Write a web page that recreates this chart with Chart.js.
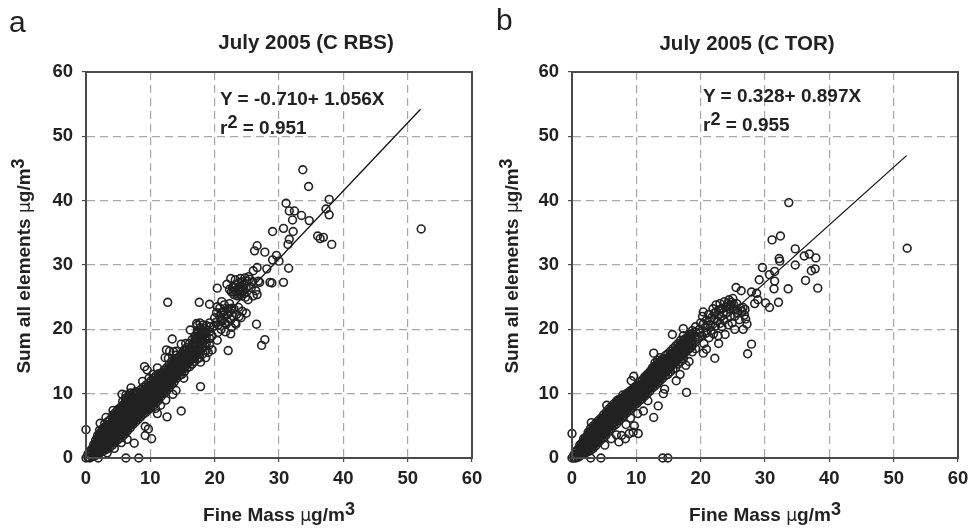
<!DOCTYPE html>
<html>
<head>
<meta charset="utf-8">
<title>July 2005 fine mass vs sum of elements</title>
<script src="https://cdn.jsdelivr.net/npm/chart.js@4"></script>
<style>
    html, body { margin: 0; padding: 0; background: #fff; }
    body { width: 971px; height: 528px; position: relative; overflow: hidden; font-family: "Liberation Sans", Arial, sans-serif; color: #222; }
    canvas { position: absolute; top: 0; }
    .txt { position: absolute; white-space: nowrap; font-weight: bold; font-size: 19px; line-height: 20px; }
    .panel { font-weight: normal; font-size: 30px; line-height: 30px; }
    .title { font-size: 20.5px; transform: translateX(-50%); }
    .ytitle { transform: translate(-50%, -50%) rotate(-90deg); }
    .xtitle { transform: translateX(-50%); }
    sup { font-size: 0.95em; line-height: 0; vertical-align: 0.34em; }
    .mu { font-weight: normal; font-family: "DejaVu Sans", sans-serif; font-size: 0.9em; }
</style>
</head>
<body>
<canvas id="chartA" width="492" height="528" style="left:0"></canvas>
<canvas id="chartB" width="492" height="528" style="left:486px"></canvas>

<div class="txt panel" style="left:9px;top:7px">a</div>
<div class="txt panel" style="left:496px;top:5px">b</div>
<div class="txt title" style="left:306px;top:32px">July 2005 (C RBS)</div>
<div class="txt title" style="left:747px;top:33px">July 2005 (C TOR)</div>
<div class="txt" style="left:220px;top:89px">Y = -0.710+ 1.056X</div>
<div class="txt" style="left:220px;top:118px">r<sup>2</sup> = 0.951</div>
<div class="txt" style="left:703px;top:86px">Y = 0.328+ 0.897X</div>
<div class="txt" style="left:703px;top:115px">r<sup>2</sup> = 0.955</div>
<div class="txt ytitle" style="left:24px;top:266px">Sum all elements <span class="mu">µ</span>g/m<sup>3</sup></div>
<div class="txt ytitle" style="left:512px;top:266px">Sum all elements <span class="mu">µ</span>g/m<sup>3</sup></div>
<div class="txt xtitle" style="left:279px;top:505px">Fine Mass <span class="mu">µ</span>g/m<sup>3</sup></div>
<div class="txt xtitle" style="left:765px;top:505px">Fine Mass <span class="mu">µ</span>g/m<sup>3</sup></div>

<script>
const TICKS = [0, 10, 20, 30, 40, 50, 60];

// regression lines, from the printed equations
const fitXA = [0.7, 52];
const fitYA = [0, 54.2];
const fitXB = [0, 52];
const fitYB = [0.33, 47];

// points that can be read one by one: [fine mass, sum of elements]
const outliersA = [
    [33.7,44.8],[34.6,42.2],[37.8,40.2],[37.3,38.7],[37.8,37.8],[31.1,39.6],[31.6,38.4],[32.4,38.4],[33.5,37.7],[34.7,36.9],
    [32.1,37],[30.7,35.7],[32.2,35.2],[29,35.2],[31.6,34],[31.4,33.2],[36,34.5],[36.4,34.1],[36.9,34.3],[38.2,33.2],
    [52.1,35.6],[26.6,33],[26.2,32.2],[27.8,32],[29.6,31.5],[29,30.8],[30,30.6],[31.5,29.5],[26.6,29.6],[28.1,29.4],
    [26,29.1],[30.7,27.3],[28.6,27.3],[28.9,27.2],[22.5,27.9],[20.4,26.4],[21.9,27],[12.7,24.2],[17.6,24.2],[19.2,23.9],
    [21.1,24.3],[24.9,22.5],[23.3,20.8],[26.5,20.8],[22.5,19.3],[27.8,18.4],[27.3,17.5],[22.1,16.7],[20.4,18.3],[13.4,18.5],
    [19,16.4],[17.8,11.1],[14.8,7.3],[12.6,6.4],[13.5,9.9],[11.1,6.9],[0,4.4],[6.2,0],[8.2,0],[0,0],
    [1.9,0],[10.2,3],[9.2,3.5],[9.7,4.5],[9.2,4.9],[7.5,2.3],[9.1,14.2],[9.5,13.7],[11.1,14],[8.8,11.9],
    [7,10.9],[5.6,9.9],[2.2,5.4],[3.1,6.3],[12.5,16.8],[12.3,15.6],[16.2,19.9],[17.2,20.9],[10.8,7.7],[11.6,8.2],
    [12.4,9],[14,10.5],[15.2,12.4],[17.8,14.9],[4.4,1.5],[3.3,0.8],[6.4,2.9],[5.5,2.4],[13,16.6],[13.6,16.5],
    [14,16.6],[14.8,17.7],[15.5,17.8],[12.8,15.5],[9.8,12.4],[10.4,13],[6.2,9.8],[4.2,7.4],[19.6,16.8],[18.6,15.6]
];
const outliersB = [
    [33.7,39.7],[32.4,34.5],[31.1,33.9],[34.7,32.5],[36.9,31.7],[36.1,31.4],[37.9,31.1],[32.2,31],[52.1,32.6],[34.7,30],
    [29.6,29.6],[31.5,29],[37.2,29.1],[37.8,29.4],[32.3,30.6],[30.7,28.5],[36.3,27.6],[38.2,26.4],[29.1,27.7],[31.5,27.5],
    [31.4,26.3],[33.6,26.3],[32.1,24.2],[30.7,23.4],[30.1,24.1],[28.9,24.6],[28.4,24],[27.9,25.8],[28.7,25.6],[25.5,26.5],
    [26.3,26],[20.4,22.7],[15.6,19.2],[17.3,20.1],[27.9,17.7],[27.3,16.2],[22.2,15.5],[26.6,20],[25.3,20],[27.2,20.8],
    [22.8,17.8],[20.9,16.9],[20.4,16.3],[17.8,10.2],[16.2,12],[16.8,13],[14.2,10],[14.4,10.7],[13.4,8.1],[12.7,6.3],
    [11.1,7.3],[12.7,16.3],[9.6,12.7],[9.2,12],[0,3.8],[0,0],[2.9,0],[4.5,0],[14.1,0],[14.9,0],
    [10.3,3.8],[9.5,4],[8.9,3.8],[9.7,5],[8.3,3],[7.3,2.5],[7.7,3.5],[5.1,2],[5.4,8.2],[3,5.5],
    [7.9,9.8],[7.1,9],[6.1,3],[6.9,3.6],[8.4,5.2],[9.1,6.2],[10.2,6.9],[11.8,8.9]
];

// scattered part of the cloud above 20 ug/m3
const upperA = [
    [19.6,19],[19.9,20.5],[20,21.8],[20.3,22.6],[20.5,19.5],[20.8,22],[20.8,23.3],[21,20],[21.2,21.3],[21.3,22.7],
    [21.5,23.8],[21.7,19.6],[21.8,20.8],[22,22.3],[22.1,23.2],[22.3,24],[22.5,21.5],[22.6,20.3],[22.9,22],[23,23.2],
    [23.2,21],[23.4,22.3],[23.7,23.4],[23.8,22],[24.1,21.8],[24.3,22.8],[22.3,26.2],[22.6,25.8],[22.8,26.6],[23,25.4],
    [23.2,26],[23.3,26.9],[23.5,25.2],[23.6,26.3],[23.7,27.2],[23.9,25.8],[24,26.6],[24.2,25.2],[24.2,27.4],[24.4,26],
    [24.5,27],[24.7,28],[24.8,25],[24.9,26.4],[25,27.5],[25.2,24.6],[25.4,27.8],[25.7,26.5],[25.9,27.4],[26,25.2],
    [26.4,26],[26.6,25.4],[26.8,27.5],[27,27.3],[23.2,27.7],[24,27.9],[25.3,28.2],[21,22.6],[21.4,22.2],[21.6,21],
    [22,21.2],[22.3,22.8],[22.7,23.3],[20.2,21.1],[20.6,20.7],[20.4,23.5],[23.4,25.8],[23.8,26.2],[24.1,25.8],[24.3,26.5],
    [22.9,25.9],[23.1,26.5],[23.6,25.5],[24.6,25.6],[21.5,22.8],[21,21.4]
];
const upperB = [
    [19.6,18.6],[19.8,20],[20,21],[20.2,19],[20.3,22],[20.5,17.8],[20.7,20.3],[20.9,21.4],[21,19.5],[21.2,22.3],
    [21.3,18.7],[21.5,20.7],[21.7,21.8],[21.9,23.2],[22,19.3],[22.1,22.5],[22.3,20.5],[22.4,23.8],[22.6,21.3],[22.7,19],
    [22.8,23],[23,24],[23.1,22],[23.3,20.4],[23.4,23.3],[23.6,21.4],[23.7,24.3],[23.8,19.2],[24,22.5],[24.1,23.5],
    [24.3,20.7],[24.4,24.6],[24.6,22],[24.7,23.7],[24.9,21],[25,24.8],[25.2,23.2],[25.3,22],[25.6,24],[25.8,22.5],
    [26,21.5],[26.2,23.3],[26.4,22.8],[26.6,23.4],[26.8,22.2],[27,21.6],[26.9,23.1],[19.9,19.4],[20.4,20.8],[20.8,19.4],
    [21.1,20.6],[21.6,19.8],[22.2,21.6],[22.8,22.2],[23.2,23.1],[23.5,22.6],[23.9,23.4],[24.2,24],[24.5,23.2],[24.8,24.2],
    [25.1,23.9],[25.5,23],[21.4,21.3],[22.4,22.7],[23,20.9]
];

// solid part of the cloud, estimated by column: [fine mass, sum values...]
const coreA = [
    [0.3,0.1,0.6],[0.6,0,0.5,1],[0.9,0.2,0.8,1.4],[1.2,0.3,0.9,1.5,2.1],[1.5,0.4,1,1.6,2.2,2.8],
    [1.8,0.6,1.2,1.8,2.4,3,3.5],[2.1,0.8,1.4,2,2.6,3.2,3.8,4.3],[2.5,1,1.5,2.1,2.7,3.3,3.9,4.5],
    [2.9,1.2,1.8,2.4,3,3.6,4.2,4.8,5.3],[3.3,1.4,2,2.6,3.2,3.8,4.4,5,5.6],[3.7,1.7,2.3,2.9,3.5,4.1,4.7,5.3,5.9],
    [4.1,2,2.6,3.2,3.8,4.4,5,5.6,6.2,6.6],[4.5,2.4,3,3.6,4.2,4.8,5.4,6,6.6,7],[4.9,2.8,3.4,4,4.6,5.2,5.8,6.4,7,7.5],
    [5.3,3.1,3.7,4.3,4.9,5.5,6.1,6.7,7.3,7.8],[5.7,3.4,4,4.6,5.2,5.8,6.4,7,7.6,8.2,8.8],
    [6.1,3.8,4.4,5,5.6,6.2,6.8,7.4,8,8.6,9.2],[6.5,4.3,4.9,5.5,6.1,6.7,7.3,7.9,8.5,9.1,9.6],
    [6.9,4.7,5.3,5.9,6.5,7.1,7.7,8.3,8.9,9.5,10.1],[7.3,5.2,5.8,6.4,7,7.6,8.2,8.8,9.4,10],
    [7.7,5.6,6.2,6.8,7.4,8,8.6,9.2,9.8,10.3],[8.1,6,6.6,7.2,7.8,8.4,9,9.6,10.2],[8.5,6.4,7,7.6,8.2,8.8,9.4,10,10.6],
    [8.9,6.8,7.4,8,8.6,9.2,9.8,10.4,11],[9.3,7.1,7.7,8.3,8.9,9.5,10.1,10.7,11.3],[9.7,7.5,8.1,8.7,9.3,9.9,10.5,11.1,11.6],
    [10.1,7.8,8.4,9,9.6,10.2,10.8,11.4,12],[10.5,8.2,8.8,9.4,10,10.6,11.2,11.8,12.4],[10.9,8.6,9.2,9.8,10.4,11,11.6,12.2,12.8],
    [11.3,9,9.6,10.2,10.8,11.4,12,12.6,13.1],[11.7,9.6,10.2,10.8,11.4,12,12.6,13.2],[12.1,10,10.6,11.2,11.8,12.4,13,13.6],
    [12.5,10.4,11,11.6,12.2,12.8,13.4,14],[12.9,10.9,11.5,12.1,12.7,13.3,13.9,14.5],[13.3,11.4,12,12.6,13.2,13.8,14.4,15],
    [13.7,11.8,12.4,13,13.6,14.2,14.8,15.4],[14.1,12.4,13,13.6,14.2,14.8,15.4,16],[14.5,12.8,13.4,14,14.6,15.2,15.8],
    [14.9,13,13.8,14.4,15,15.6,16.2],[15.3,13.4,14.2,14.8,15.4,16,16.8],[15.7,14,14.6,15.2,15.8,16.4,17.2],
    [16.1,14.2,15,15.6,16.2,17,17.8],[16.5,14.6,15.4,16,16.8,17.6,18.4],[16.9,15,15.8,16.6,17.4,18,18.9],
    [17.3,15.4,16.4,17,17.8,18.6,19.6,20.6],[17.7,15.6,16.8,17.6,18.4,19.2,20.2,21],[18.2,16.2,17.2,18,19,19.8,20.7],
    [18.7,16.8,17.8,18.8,19.6,20.6],[19.2,17.6,18.6,19.6,20.4,21]
];
const coreB = [
    [0.3,0,0.5],[0.6,0,0.5,1],[0.9,0.1,0.7,1.3],[1.2,0.3,0.9,1.5,2],[1.5,0.5,1.1,1.7,2.3],[1.8,0.6,1.2,1.8,2.4,3],
    [2.1,0.8,1.4,2,2.6,3.2],[2.5,1,1.6,2.2,2.8,3.4,4],[2.9,1.2,1.8,2.4,3,3.6,4.2,4.6],[3.3,1.5,2.1,2.7,3.3,3.9,4.5,5],
    [3.7,1.9,2.5,3.1,3.7,4.3,4.9,5.4],[4.1,2.4,3,3.6,4.2,4.8,5.4,5.8],[4.5,2.8,3.4,4,4.6,5.2,5.8,6.2],
    [4.9,3.2,3.8,4.4,5,5.6,6.2,6.7],[5.3,3.6,4.2,4.8,5.4,6,6.6,7.1],[5.7,4.2,4.8,5.4,6,6.6,7.2,7.6],
    [6.1,4.6,5.2,5.8,6.4,7,7.6,8],[6.5,5,5.6,6.2,6.8,7.4,8,8.4],[6.9,5.3,5.9,6.5,7.1,7.7,8.3,8.8],
    [7.3,5.8,6.4,7,7.6,8.2,8.8,9.1],[7.7,6.2,6.8,7.4,8,8.6,9.2],[8.1,6.6,7.2,7.8,8.4,9,9.6],[8.5,7,7.6,8.2,8.8,9.4,10],
    [8.9,7.4,8,8.6,9.2,9.8,10.3],[9.3,7.8,8.4,9,9.6,10.2,10.6],[9.7,8.2,8.8,9.4,10,10.6,11],[10.1,8.5,9.1,9.7,10.3,10.9,11.3],
    [10.5,8.9,9.5,10.1,10.7,11.3,11.8],[10.9,9.2,9.8,10.4,11,11.6,12.1],[11.3,9.6,10.2,10.8,11.4,12,12.6],
    [11.7,10,10.6,11.2,11.8,12.4,13],[12.1,10.4,11,11.6,12.2,12.8,13.4],[12.5,10.9,11.5,12.1,12.7,13.3,14],
    [12.9,11.2,11.8,12.4,13,13.6,14.3,14.8],[13.3,11.6,12.2,12.8,13.4,14,14.6,15.2],[13.7,12,12.6,13.2,13.8,14.4,15,15.6],
    [14.1,12.4,13,13.6,14.2,14.8,15.4],[14.5,12.8,13.4,14,14.6,15.2,15.9],[14.9,13,13.8,14.4,15,15.6,16.2],
    [15.3,13.4,14.2,14.8,15.4,16,16.6],[15.7,13.8,14.6,15.2,15.8,16.4,17],[16.1,14,15,15.6,16.2,16.8,17.4],
    [16.5,14.6,15.4,16,16.6,17.2,17.8],[16.9,15,15.8,16.4,17,17.6,18.3],[17.3,15.4,16.2,16.8,17.5,18.2,19],
    [17.7,14.4,16.6,17.3,18,18.6],[18.2,15,17,17.8,18.5,19.2],[18.7,16.5,17.5,18.3,19,19.8],[19.2,17,18,18.8,19.6,20.4]
];

// in-between columns along the middle of the band, where the picture is solid black
const middleA = [
    [1.35,0.7,1.3,1.9],[1.65,0.8,1.4,2],[1.95,1,1.6,2.2,2.8],[2.3,1.2,1.8,2.4,3,3.6],[2.7,1.5,2.1,2.7,3.3,3.9,4.5],
    [3.1,1.7,2.3,2.9,3.5,4.1,4.7],[3.5,2,2.6,3.2,3.8,4.4,5],[3.9,2.3,2.9,3.5,4.1,4.7,5.3],[4.3,2.6,3.2,3.8,4.4,5,5.6,6.2],
    [4.7,3.1,3.7,4.3,4.9,5.5,6.1,6.7],[5.1,3.4,4,4.6,5.2,5.8,6.4,7],[5.5,3.7,4.3,4.9,5.5,6.1,6.7,7.3,7.9],
    [5.9,4.1,4.7,5.3,5.9,6.5,7.1,7.7,8.3],[6.3,4.6,5.2,5.8,6.4,7,7.6,8.2,8.8],[6.7,5,5.6,6.2,6.8,7.4,8,8.6,9.2],
    [7.1,5.5,6.1,6.7,7.3,7.9,8.5,9.1],[7.5,5.9,6.5,7.1,7.7,8.3,8.9,9.5],[7.9,6.3,6.9,7.5,8.1,8.7,9.3,9.9],
    [8.3,6.7,7.3,7.9,8.5,9.1,9.7],[8.7,7.1,7.7,8.3,8.9,9.5,10.1],[9.1,7.4,8,8.6,9.2,9.8,10.4],[9.5,7.8,8.4,9,9.6,10.2,10.8],
    [9.9,8.1,8.7,9.3,9.9,10.5,11.1],[10.3,8.5,9.1,9.7,10.3,10.9,11.5],[10.7,8.9,9.5,10.1,10.7,11.3,11.9],
    [11.1,9.3,9.9,10.5,11.1,11.7,12.3],[11.5,9.9,10.5,11.1,11.7,12.3],[11.9,10.3,10.9,11.5,12.1,12.7],
    [12.3,10.7,11.3,11.9,12.5,13.1],[12.7,11.2,11.8,12.4,13,13.6],[13.1,11.7,12.3,12.9,13.5,14.1],[13.5,12.1,12.7,13.3,13.9,14.5],
    [13.9,12.7,13.3,13.9,14.5,15.1],[14.3,13.1,13.7,14.3,14.9,15.5],[14.7,13.5,14.1,14.7,15.3],[15.1,14,14.6,15.2,15.8],
    [15.5,14.3,14.9,15.5,16.1,16.7],[15.9,14.8,15.4,16,16.6],[16.3,15.2,15.8,16.4,17],[16.7,15.6,16.2,16.8,17.4],
    [17.1,16,16.7,17.4,18.1,18.8],[17.5,16.5,17.2,18,18.8,19.5],[18,17,17.6,18.5,19.4],[18.5,17.4,18.4,19.2,20.1]
];
const middleB = [
    [1.35,0.6,1.2,1.8],[1.65,0.8,1.4,2],[1.95,1,1.6,2.2,2.8],[2.3,1.2,1.8,2.4,3],[2.7,1.5,2.1,2.7,3.3,3.9],[3.1,1.8,2.4,3,3.6,4.2],
    [3.5,2.2,2.8,3.4,4,4.6],[3.9,2.7,3.3,3.9,4.5,5.1],[4.3,3.1,3.7,4.3,4.9,5.5],[4.7,3.5,4.1,4.7,5.3,5.9],[5.1,3.9,4.5,5.1,5.7,6.3],
    [5.5,4.5,5.1,5.7,6.3,6.9],[5.9,4.9,5.5,6.1,6.7,7.3],[6.3,5.3,5.9,6.5,7.1,7.7],[6.7,5.6,6.2,6.8,7.4,8],[7.1,6.1,6.7,7.3,7.9,8.5],
    [7.5,6.5,7.1,7.7,8.3,8.9],[7.9,6.9,7.5,8.1,8.7,9.3],[8.3,7.3,7.9,8.5,9.1,9.7],[8.7,7.7,8.3,8.9,9.5,10],[9.1,8.1,8.7,9.3,9.9],
    [9.5,8.5,9.1,9.7,10.3],[9.9,8.8,9.4,10,10.6],[10.3,9.2,9.8,10.4,11],[10.7,9.5,10.1,10.7,11.3],[11.1,9.9,10.5,11.1,11.7],
    [11.5,10.3,10.9,11.5,12.1,12.7],[11.9,10.7,11.3,11.9,12.5,13.1],[12.3,11.2,11.8,12.4,13,13.6],[12.7,11.5,12.1,12.7,13.3,13.9],
    [13.1,11.9,12.5,13.1,13.7,14.3],[13.5,12.3,12.9,13.5,14.1,14.7],[13.9,12.7,13.3,13.9,14.5,15.1],[14.3,13.1,13.7,14.3,14.9],
    [14.7,13.5,14.1,14.7,15.3],[15.1,13.9,14.5,15.1,15.7],[15.5,14.3,14.9,15.5,16.1],[15.9,14.7,15.3,15.9,16.5],[16.3,15.1,15.7,16.3,16.9],
    [16.7,15.5,16.1,16.7,17.3],[17.1,15.9,16.5,17.1,17.7],[17.5,16.3,16.9,17.6,18.3],[18,16.8,17.4,18.1,18.8],[18.5,17.2,17.9,18.6,19.3]
];

const INK = '#222';
const GRID = '#a8a8a8';
const EDGE = '#4a4a4a';

// box around the plot
const framePlugin = {
    id: 'frame',
    afterDatasetsDraw(chart) {
        const a = chart.chartArea, c = chart.ctx;
        c.save();
        c.strokeStyle = EDGE;
        c.lineWidth = 2;
        c.strokeRect(a.left, a.top, a.right - a.left, a.bottom - a.top);
        c.restore();
    }
};

function toPoints(pairs, columns) {
    const pts = pairs.map(p => ({ x: p[0], y: p[1] }));
    columns.forEach(col => col.slice(1).forEach(y => pts.push({ x: col[0], y: y })));
    return pts;
}

function makeAxis(fixed, padding) {
    return {
        type: 'linear',
        min: 0,
        max: 60,
        afterBuildTicks(axis) { axis.ticks = TICKS.map(v => ({ value: v })); },
        afterFit(axis) { Object.assign(axis, fixed); },
        ticks: { color: INK, padding: padding, maxRotation: 0, autoSkip: false, font: { family: '"Liberation Sans"', size: 18.5, weight: 'bold' } },
        grid: { color: GRID, lineWidth: 1.2, tickColor: EDGE, tickLength: 4, tickBorderDash: [], drawTicks: true },
        border: { color: EDGE, width: 2, dash: [8, 5], dashOffset: 0 }
    };
}

function makeChart(id, cloud, fitX, fitY) {
    new Chart(document.getElementById(id), {
        type: 'scatter',
        data: {
            datasets: [{
                label: 'samples',
                data: cloud,
                pointStyle: 'circle',
                pointRadius: 3.9,
                pointBorderWidth: 1.6,
                pointBorderColor: INK,
                pointBackgroundColor: 'transparent',
                clip: false
            }, {
                label: 'fit',
                data: fitX.map((x, i) => ({ x: x, y: fitY[i] })),
                showLine: true,
                borderColor: '#111',
                borderWidth: 1.3,
                pointRadius: 0
            }]
        },
        options: {
            responsive: false,
            animation: false,
            layout: { padding: { left: 0, top: 72, right: 20, bottom: 0 } },
            plugins: { legend: { display: false }, tooltip: { enabled: false } },
            scales: {
                x: makeAxis({ height: 70 }, 6),
                y: makeAxis({ width: 86 }, 9)
            }
        },
        plugins: [framePlugin]
    });
}

makeChart('chartA', toPoints(outliersA.concat(upperA), coreA.concat(middleA)), fitXA, fitYA);
makeChart('chartB', toPoints(outliersB.concat(upperB), coreB.concat(middleB)), fitXB, fitYB);
</script>
</body>
</html>
